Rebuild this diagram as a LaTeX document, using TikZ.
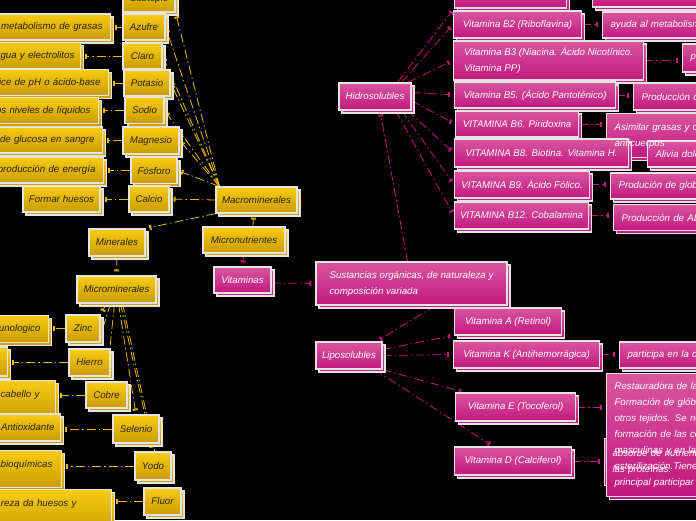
\documentclass[tikz,border=0pt]{standalone}
\usepackage{fontspec}
\setmainfont{Liberation Sans}
\usetikzlibrary{arrows.meta,positioning}
\definecolor{goldtop}{HTML}{F8CC14}
\definecolor{goldbot}{HTML}{C99B00}
\definecolor{goldtxt}{HTML}{2B2300}
\definecolor{goldline}{HTML}{E9B800}
\definecolor{pinktop}{HTML}{D9569F}
\definecolor{pinkbot}{HTML}{C2187E}
\definecolor{pinkline}{HTML}{C8157F}
\definecolor{boxline}{HTML}{E4E4E4}
\pgfdeclarelayer{bg}
\pgfdeclarelayer{links}
\pgfsetlayers{bg,links,main}

\begin{document}
\begin{tikzpicture}[x=1pt, y=-1pt,
  box/.style={line width=1.1pt, draw=boxline, font=\fontsize{9.7}{16}\selectfont\itshape,
    inner xsep=5pt, inner ysep=4pt, minimum height=26pt},
  goldbox/.style={box, top color=goldtop, bottom color=goldbot, text=goldtxt,
    preaction={draw=boxline, line width=1.1pt, top color=goldtop, bottom color=goldbot,
      transform canvas={shift={(3pt,-3pt)}}}},
  pinkbox/.style={box, top color=pinktop, bottom color=pinkbot, text=white,
    preaction={draw=boxline, line width=1.1pt, top color=pinktop, bottom color=pinkbot,
      transform canvas={shift={(3pt,-3pt)}}}},
  vit/.style={pinkbox, anchor=west, align=left},
  ldesc/.style={goldbox, anchor=east, inner xsep=8pt, text width=184pt, align=right},
  rdesc/.style={pinkbox, anchor=west, inner xsep=8pt, text width=184pt, align=left},
  bare/.style={font=\fontsize{9.7}{16}\selectfont\itshape, text=white, inner xsep=8pt,
    text width=184pt, align=left},
  link/.style={line width=0.8pt, dash pattern=on 9pt off 3pt on 1.5pt off 3pt,
    shorten >=4pt, -{Bar[width=5pt,line width=1pt]Bar[width=5pt,line width=1pt]}},
  glink/.style={link, goldline},
  plink/.style={link, pinkline}]

  \useasboundingbox (0,0) rectangle (696,520);
  \begin{pgfonlayer}{bg}
    \fill[black] (0,0) rectangle (696,520);
  \end{pgfonlayer}

  % Macrominerales
  \node[goldbox, minimum width=52pt] (subtopic) at (149,-1) {Subtopic};
  \node[goldbox, minimum width=42pt] (azufre) at (144,27) {Azufre};
  \node[goldbox, minimum width=39pt] (claro) at (142.5,56) {Claro};
  \node[goldbox, minimum width=46pt] (potasio) at (147,83) {Potasio};
  \node[goldbox, minimum width=39pt] (sodio) at (144.5,110.5) {Sodio};
  \node[goldbox, minimum width=56pt, minimum height=27pt] (magnesio) at (151,140.5) {Magnesio};
  \node[goldbox, minimum width=46pt] (fosforo) at (154,170.5) {Fósforo};
  \node[goldbox, minimum width=40pt] (calcio) at (149,199) {Calcio};

  \node[ldesc] (dazufre) at (111,27) {l metabolismo de grasas};
  \node[ldesc, inner xsep=6pt] (dclaro) at (81,55.5) {gua y electrolitos};
  \node[ldesc] (dpotasio) at (109,82.5) {dice de pH o ácido-base};
  \node[ldesc] (dsodio) at (99,110.5) {os niveles de líquidos};
  \node[ldesc] (dmagnesio) at (103,140) {e de glucosa en sangre};
  \node[ldesc] (dfosforo) at (104,170) {producción de energía};
  \node[goldbox, minimum width=77pt] (dcalcio) at (61.5,199) {Formar huesos};

  \node[goldbox, minimum width=81pt] (macro) at (256.5,200) {Macrominerales};
  \node[goldbox, minimum width=82pt] (micronut) at (244,240) {Micronutrientes};
  \node[goldbox, minimum width=56pt, minimum height=27pt] (minerales) at (117,242.5) {Minerales};

  % Microminerales
  \node[goldbox, minimum width=79pt, minimum height=27pt] (micromin) at (116.5,289.5) {Microminerales};
  \node[goldbox, minimum width=34pt, minimum height=27pt] (zinc) at (83,328.5) {Zinc};
  \node[goldbox, minimum width=41pt, minimum height=27pt] (hierro) at (89.5,362.5) {Hierro};
  \node[goldbox, minimum width=41pt] (cobre) at (106.5,395) {Cobre};
  \node[goldbox, minimum width=46pt, minimum height=28pt] (selenio) at (136,429) {Selenio};
  \node[goldbox, minimum width=36pt, minimum height=28pt] (yodo) at (153,466) {Yodo};
  \node[goldbox, minimum width=37pt, minimum height=27pt] (fluor) at (162.5,501.5) {Fluor};

  \node[ldesc, minimum height=27pt] (dzinc) at (49,329) {munologico};
  \node[ldesc, minimum height=29pt] (dhierro) at (8,361.5) {};
  \node[ldesc, anchor=north east, inner xsep=16pt, text height=13pt, text depth=17pt] (dcobre) at (56,380) {cabello y};
  \node[ldesc, minimum height=27pt, inner xsep=6pt] (dselenio) at (61,427.5) {Antioxidante};
  \node[ldesc, anchor=north east, inner xsep=9pt, text height=13pt, text depth=16pt] (dyodo) at (62,450) {bioquímicas};
  \node[ldesc, anchor=north east, inner xsep=35pt, text height=13pt, text depth=22pt] (dfluor) at (112,489) {reza da huesos y};

  % Vitaminas
  \node[pinkbox, minimum width=57pt] (vitaminas) at (242.5,280) {Vitaminas};
  \node[pinkbox, minimum width=191pt, minimum height=43pt, align=left] (sust) at (411.5,283.5)
    {Sustancias orgánicas, de naturaleza y\\composición variada};
  \node[pinkbox, minimum width=72pt, minimum height=27pt] (hidro) at (375,96.5) {Hidrosolubles};
  \node[pinkbox, minimum width=66pt, minimum height=27pt] (lipo) at (349,355.5) {Liposolubles};

  % Hidrosolubles
  \node[vit, minimum width=112pt, minimum height=28pt] (b1) at (454,-6) {};
  \node[vit, minimum width=128pt, minimum height=27pt] (b2) at (453,24.5) {Vitamina B2 (Riboflavina)};
  \node[vit, minimum width=190pt, minimum height=39pt] (b3) at (453,60.5)
    {Vitamina B3 (Niacina. Ácido Nicotínico.\\Vitamina PP)};
  \node[vit, minimum width=161pt] (b5) at (454,95) {Vitamina B5. (Ácido Pantoténico)};
  \node[vit, minimum width=123pt] (b6) at (455,124) {VITAMINA B6. Piridoxina};

  \node[rdesc, minimum height=28pt] (db1) at (592,-7) {};
  \node[rdesc] (db2) at (602,25) {ayuda al metabolism};
  \node[rdesc, minimum height=28pt] (db3) at (682,58) {p};
  \node[rdesc, minimum height=27pt] (db5) at (633,96.5) {Producción d};
  \node[rdesc, anchor=north west, minimum height=44pt, text opacity=0] (db6) at (606,113)
    {Asimilar grasas y c\\anticuerpos};

  \node[vit, minimum width=174pt, minimum height=28pt] (b8) at (454,153) {VITAMINA B8. Biotina. Vitamina H.};
  \node[vit, minimum width=135pt, minimum height=27pt] (b9) at (454,184.5) {VITAMINA B9. Ácido Fólico.};
  \node[vit, minimum width=134pt, minimum height=27pt] (b12) at (454,215.5) {VITAMINA B12. Cobalamina};

  \node[rdesc] (db8) at (647,154) {Alivia dolo};
  \node[rdesc] (db9) at (610,186) {Produción de glob};
  \node[rdesc] (db12) at (613,217.5) {Producción de AD};
  \node[bare] (db6txt) at (db6.center) {Asimilar grasas y c\\anticuerpos};

  % Liposolubles
  \node[vit, minimum width=107pt, minimum height=27pt] (va) at (454,321.5) {Vitamina A (Retinol)};
  \node[vit, minimum width=146pt, minimum height=27pt] (vk) at (453,354.5) {Vitamina K (Antihemorrágica)};
  \node[vit, minimum width=120pt, minimum height=28pt] (ve) at (455,407) {Vitamina E (Tocoferol)};
  \node[vit, minimum width=117pt, minimum height=28pt] (vd) at (454,461) {Vitamina D (Calciferol)};

  \node[rdesc] (dvk) at (619,355) {participa en la c};
  \node[rdesc, anchor=north west, minimum height=47pt, text opacity=0] (dvd) at (604,438)
    {absorbe de nutrient\\las proteínas.};
  \node[rdesc, anchor=north west, minimum height=123pt] (dve) at (606,373)
    {Restauradora de la\\Formación de glóbu\\otros tejidos. Se ne\\formación de las ce\\masculinas y en la\\esterilización.Tiene\\principal participar};
  \node[bare] (dvdtxt) at (dvd.center) {absorbe de nutrient\\las proteínas.};

  \begin{pgfonlayer}{links}
    % gold links
    \draw[glink] ([xshift=4pt]macro.north west) -- (subtopic.south east);
    \foreach \m in {azufre,claro,potasio,sodio,magnesio,fosforo}
      \draw[glink] ([xshift=4pt]macro.north west) -- (\m.east);
    \draw[glink] (macro.west) -- (calcio.east);
    \foreach \m/\d in {azufre/dazufre,claro/dclaro,potasio/dpotasio,sodio/dsodio,
        magnesio/dmagnesio,fosforo/dfosforo,calcio/dcalcio,zinc/dzinc,hierro/dhierro,
        cobre/dcobre,selenio/dselenio,yodo/dyodo,fluor/dfluor}
      \draw[glink] (\m.west) -- (\m.west -| \d.east);
    \draw[glink] ([xshift=9pt]micronut.north) -- ([xshift=-3pt]macro.south);
    \draw[glink] (macro.south west) -- (minerales.north east);
    \draw[glink] (minerales.south) -- (micromin.north);
    \draw[glink] ([xshift=-10pt]micromin.south) -- (zinc.north east);
    \draw[glink] ([xshift=-6pt]micromin.south) -- ([xshift=7pt]hierro.north);
    \draw[glink] ([xshift=-2pt]micromin.south) -- (cobre.north);
    \draw[glink] ([xshift=2pt]micromin.south) -- (selenio.north);
    \draw[glink] ([xshift=4pt]micromin.south) -- (yodo.north);
    \draw[glink] ([xshift=6pt]micromin.south) -- (fluor.north);
    % pink links
    \draw[plink] (micronut.south) -- (vitaminas.north);
    \draw[plink] ([yshift=-3pt]vitaminas.east) -- (sust.west);
    \draw[plink] ([xshift=-4pt]sust.north) -- ([xshift=5pt]hidro.south);
    \draw[plink] ([xshift=24pt]sust.south) -- ([xshift=-6pt]lipo.north east);
    \draw[plink] ([xshift=-14pt]hidro.north east) -- (b1.south west);
    \draw[plink] ([xshift=-10pt]hidro.north east) -- (b2.west);
    \draw[plink] ([xshift=-4pt]hidro.north east) -- (b3.west);
    \draw[plink] ([yshift=4pt]hidro.east) -- (b5.west);
    \draw[plink] ([yshift=-4pt]hidro.east) -- (b6.west);
    \draw[plink] ([xshift=-4pt]hidro.south east) -- (b8.west);
    \draw[plink] ([xshift=-10pt]hidro.south east) -- (b9.west);
    \draw[plink] ([xshift=-16pt]hidro.south east) -- (b12.west);
    \foreach \v/\d in {b1/db1,b2/db2,b3/db3,b5/db5,b6/db6,b8/db8,b9/db9,b12/db12,
        vk/dvk,ve/dve,vd/dvd}
      \draw[plink] (\v.east) -- (\v.east -| \d.west);
    \draw[plink] ([yshift=6pt]lipo.east) -- (va.south west);
    \draw[plink] (lipo.east) -- (vk.west);
    \draw[plink] (lipo.south east) -- ([xshift=10pt]ve.north west);
    \draw[plink] ([xshift=-8pt]lipo.south east) -- ([xshift=-20pt]vd.north);
  \end{pgfonlayer}
\end{tikzpicture}
\end{document}
